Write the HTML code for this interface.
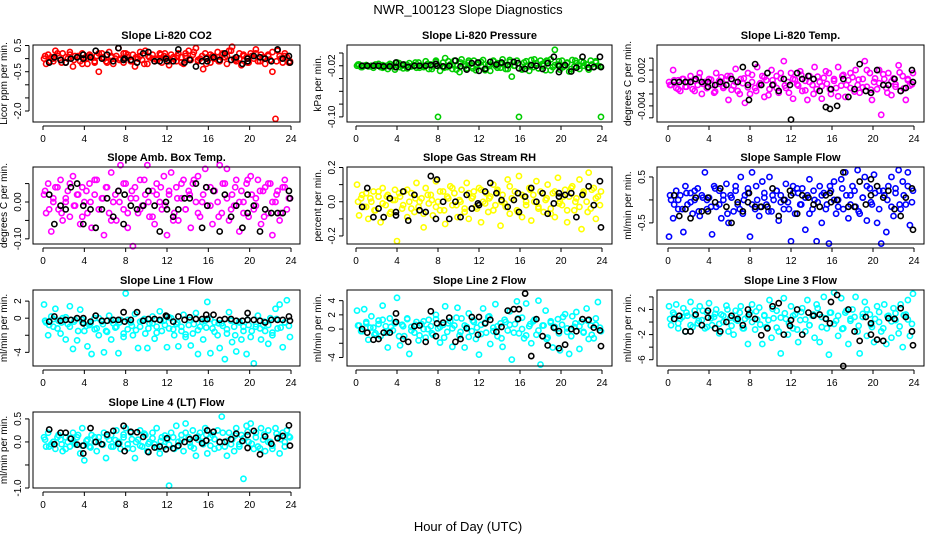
<!DOCTYPE html>
<html><head><meta charset="utf-8"><style>
html,body{margin:0;padding:0;background:#fff;}
svg{display:block;font-family:"Liberation Sans",sans-serif;}
</style></head><body>
<svg id="chart" width="936" height="540" viewBox="0 0 936 540" xmlns="http://www.w3.org/2000/svg">
<rect width="936" height="540" fill="#fff"/>
<text x="468" y="14" text-anchor="middle" font-size="13">NWR_100123  Slope Diagnostics</text>
<text x="468" y="531" text-anchor="middle" font-size="13">Hour of Day (UTC)</text>
</svg>
<script>
const xTicks=[0,4,8,12,16,20,24];
const hrsC=[0.1,0.3,0.5,0.8,1.0,1.2,1.5,1.7,1.9,2.2,2.4,2.6,2.9,3.1,3.3,3.6,3.8,4.0,4.3,4.5,4.7,5.0,5.2,5.4,5.7,5.9,6.1,6.4,6.6,6.8,7.1,7.3,7.5,7.8,8.0,8.2,8.5,8.7,8.9,9.2,9.4,9.6,9.9,10.1,10.3,10.6,10.8,11.0,11.3,11.5,11.7,12.0,12.2,12.4,12.7,12.9,13.1,13.4,13.6,13.8,14.1,14.3,14.5,14.8,15.0,15.2,15.5,15.7,15.9,16.2,16.4,16.6,16.9,17.1,17.3,17.6,17.8,18.0,18.3,18.5,18.7,19.0,19.2,19.4,19.7,19.9,20.1,20.4,20.6,20.8,21.1,21.3,21.5,21.8,22.0,22.2,22.5,22.7,22.9,23.2,23.4,23.6,23.9];
const hrsC2=[0.2,0.6,1.0,1.4,1.8,2.2,2.6,3.0,3.4,3.8,4.2,4.6,5.0,5.4,5.8,6.2,6.6,7.0,7.4,7.8,8.2,8.6,9.0,9.4,9.8,10.2,10.6,11.0,11.4,11.8,12.2,12.6,13.0,13.4,13.8,14.2,14.6,15.0,15.4,15.8,16.2,16.6,17.0,17.4,17.8,18.2,18.6,19.0,19.4,19.8,20.2,20.6,21.0,21.4,21.8,22.2,22.6,23.0,23.4,23.8];
const hrsK=[0.6,1.1,1.7,2.2,2.7,3.3,3.9,3.9,4.6,5.1,5.7,6.2,6.8,7.3,7.8,7.9,8.5,9.1,9.7,10.2,10.8,11.3,11.9,12.0,12.6,13.1,13.7,14.2,14.8,15.4,15.8,15.9,16.5,17.1,17.6,18.2,18.7,19.3,19.8,19.8,20.4,21.0,21.5,22.1,22.7,23.2,23.8,23.9];

const co2C=[0.0,-0.2,0.15,0.05,-0.1,0.3,0.1,-0.05,0.2,-0.15,0.0,0.25,-0.3,0.1,0.05,-0.1,0.2,0.0,-0.2,0.15,0.05,-0.15,0.1,-0.5,0.2,0.0,-0.1,0.25,0.05,-0.2,0.1,0.4,0.0,-0.15,0.2,0.05,-0.1,0.15,-0.3,0.0,0.1,-0.05,0.3,-0.2,0.05,0.15,-0.1,0.0,0.2,-0.15,0.1,0.05,-0.25,0.15,0.0,-0.1,0.2,0.05,-0.2,0.1,0.3,-0.05,0.15,0.4,-0.1,0.0,-0.4,0.2,0.05,-0.15,0.1,0.0,0.25,-0.1,0.15,0.05,-0.2,0.3,0.45,0.0,-0.1,0.2,-0.25,0.1,0.05,-0.15,0.2,0.0,0.35,-0.1,0.15,0.05,-0.2,0.1,-0.05,-0.5,-2.3,0.3,0.1,-0.15,0.2,0.05,-0.1];
const co2C2=[0.1,-0.1,0.0,0.2,-0.15,0.05,0.15,-0.05,0.1,-0.2,0.0,0.1,-0.1,0.2,0.05,-0.15,0.1,0.0,-0.05,0.2,0.15,-0.1,0.05,0.25,-0.2,0.1,0.0,-0.05,0.15,0.2,-0.1,0.05,0.1,-0.15,0.2,0.0,0.25,-0.05,0.1,-0.2,0.15,0.05,-0.1,0.2,0.1,0.3,-0.05,0.0,0.15,-0.15,0.1,0.2,-0.1,0.05,0.15,0.25,-0.1,0.0,0.1,-0.15];
const co2K=[-0.15,0.05,-0.05,-0.15,0.0,0.05,0.15,0.0,0.05,0.3,0.0,0.15,-0.1,0.4,-0.05,0.0,-0.05,-0.15,0.2,0.25,-0.1,-0.1,0.0,-0.1,-0.1,0.35,-0.15,-0.05,-0.3,-0.1,0.0,-0.1,0.05,-0.05,0.2,-0.05,0.05,-0.2,0.0,-0.1,0.1,0.05,0.0,-0.1,0.35,0.0,0.1,-0.15];
const presC=[-0.02,-0.018,-0.022,-0.02,-0.019,-0.021,-0.02,-0.023,-0.018,-0.02,-0.022,-0.019,-0.021,-0.025,-0.017,-0.02,-0.026,-0.015,-0.022,-0.02,-0.018,-0.024,-0.016,-0.021,-0.019,-0.023,-0.015,-0.02,-0.022,-0.013,-0.025,-0.018,-0.021,-0.012,-0.1,-0.028,-0.015,-0.008,-0.022,-0.018,-0.025,-0.012,-0.02,-0.03,-0.01,-0.018,-0.024,-0.015,-0.021,-0.012,-0.027,-0.016,-0.02,-0.011,-0.024,-0.018,-0.028,-0.013,-0.02,-0.016,-0.023,-0.01,-0.019,-0.025,-0.014,-0.037,-0.02,-0.012,-0.1,-0.025,-0.015,-0.02,-0.028,-0.011,-0.022,-0.016,-0.024,-0.012,-0.02,-0.027,-0.013,-0.01,-0.022,0.005,-0.018,-0.026,-0.012,-0.02,-0.015,-0.029,-0.011,-0.021,-0.016,-0.025,-0.013,-0.02,-0.018,-0.026,-0.012,-0.022,-0.015,-0.02,-0.1];
const presC2=[-0.018,-0.022,-0.019,-0.021,-0.02,-0.017,-0.023,-0.02,-0.018,-0.022,-0.016,-0.024,-0.019,-0.021,-0.015,-0.023,-0.02,-0.017,-0.025,-0.014,-0.02,-0.023,-0.013,-0.019,-0.026,-0.015,-0.021,-0.012,-0.024,-0.018,-0.014,-0.027,-0.02,-0.012,-0.023,-0.017,-0.025,-0.011,-0.02,-0.016,-0.026,-0.013,-0.021,-0.01,-0.024,-0.017,-0.012,-0.027,-0.019,-0.013,-0.022,-0.016,-0.025,-0.012,-0.02,-0.015,-0.023,-0.018,-0.013,-0.021];
const presK=[-0.02,-0.02,-0.02,-0.02,-0.021,-0.021,-0.015,-0.022,-0.018,-0.022,-0.02,-0.02,-0.02,-0.019,-0.017,-0.02,-0.021,-0.02,-0.012,-0.021,-0.026,-0.016,-0.015,-0.028,-0.025,-0.014,-0.018,-0.015,-0.019,-0.014,-0.016,-0.024,-0.025,-0.019,-0.02,-0.025,-0.016,-0.006,-0.02,-0.03,-0.019,-0.029,-0.023,-0.006,-0.023,-0.022,-0.006,-0.022];
// Li-820 temp in units of 0.001 degC/min
const tempC=[0,-0.5,2,-1,0.3,-1.5,0.5,-0.8,0,1,-1.2,0.2,-0.5,1.5,-2,0,-1,0.5,-0.5,-1.8,1.5,-0.3,0.8,-1,0.4,-3,1,-0.6,2.2,-1.5,0.5,-0.2,-3.5,1.5,-2,0,-1,2.5,-0.5,1,-2.5,0.3,-1.2,2,-0.4,1,-1.8,0.6,3.5,-1,0,1.5,-2.8,0.4,-0.6,1.8,-1.5,0.2,-3,1,-0.5,2.5,-1.2,0,-2.8,0.7,-0.3,1.5,-2,0.5,-1,2.5,-0.6,1.2,-2.5,0.3,-1,0.8,2,-0.5,-1.8,0.5,3.5,-0.8,1.5,-3,0,-1.2,2,-5.5,0.5,-1,1.5,-2.2,0.6,-0.4,2.8,-1.5,1,-3,0.3,-0.6,1.5];
const tempC2=[-0.5,0.3,-1.2,0.5,-0.8,0,-1.5,0.8,-0.3,-1,0.4,-1.6,0.2,-0.7,1,-1.3,0,-2,0.6,-0.9,1.2,-1.5,-0.2,0.8,-2.2,0.3,-1,1.5,-0.6,-1.8,0.5,-0.4,1.2,-1.4,0,-2,0.9,-0.7,1.8,-1.2,0.2,-2.4,1,-0.5,1.5,-1.6,0.4,-0.9,2,-1.3,0.6,-0.2,1.3,-1.8,0.1,-0.8,1.6,-1.1,0.5,-0.4];
const tempK=[0,0,0,0,0.5,0,0,-0.8,-0.5,0,-0.5,0.5,0,2.5,-0.5,-3,3,-0.5,1.5,-0.5,-1.5,0.5,-0.5,-6.3,1.5,0.5,1,0.5,-1.5,-4.2,-4.5,-1.2,-4,0.5,-2.5,-1.2,3,-1.5,-1.8,-1.8,2,-0.5,-0.5,0.5,-1.5,-1,2,0];
const ambC=[0.02,-0.03,0.05,-0.08,0.01,0.04,-0.02,0.06,-0.05,0.0,0.03,-0.04,0.07,-0.01,0.02,-0.06,0.04,0.0,-0.03,0.05,-0.07,0.02,0.06,-0.02,0.01,-0.09,0.04,-0.03,0.08,0.0,-0.05,0.03,0.1,-0.02,0.05,-0.07,0.01,-0.12,0.04,-0.03,0.06,-0.01,0.02,0.1,-0.04,0.03,-0.06,0.05,0.0,-0.02,0.07,-0.09,0.02,0.08,-0.03,0.04,-0.05,0.01,0.06,-0.02,0.03,-0.07,0.05,0.0,0.07,-0.04,0.02,0.09,-0.01,0.04,-0.06,0.03,0.0,0.1,-0.03,0.05,0.09,-0.05,0.02,-0.01,0.06,-0.08,0.03,0.0,0.05,-0.04,0.07,-0.02,0.01,0.06,-0.06,0.03,0.04,-0.03,0.05,-0.09,0.0,0.03,-0.05,0.04,0.06,-0.02,0.01];
const ambC2=[0.03,-0.02,0.0,0.04,-0.03,0.01,0.05,-0.01,0.02,-0.04,0.03,0.0,0.06,-0.02,0.01,0.04,-0.05,0.02,0.0,0.05,-0.03,0.03,0.01,-0.02,0.06,0.0,-0.04,0.02,0.04,-0.01,0.03,-0.05,0.01,0.05,-0.02,0.02,0.06,-0.03,0.0,0.04,-0.01,0.03,-0.04,0.05,0.01,-0.02,0.04,0.0,-0.03,0.06,0.02,-0.01,0.03,-0.04,0.05,0.0,0.02,-0.03,0.04,0.01];
const ambK=[0.02,-0.06,-0.01,-0.02,0.04,0.05,-0.06,-0.01,-0.02,-0.07,-0.02,0.01,-0.04,0.03,-0.06,0.02,-0.01,-0.02,-0.01,0.03,-0.01,-0.08,0.0,-0.02,-0.04,-0.02,0.01,0.01,0.05,-0.07,0.04,-0.01,0.03,-0.08,0.02,-0.04,-0.01,-0.07,0.02,-0.03,-0.01,-0.08,-0.02,-0.03,-0.03,-0.03,0.03,0.01];
const rhC=[0.1,-0.08,0.02,-0.03,0.05,-0.1,0.0,0.06,-0.05,0.03,-0.12,0.08,-0.02,0.04,-0.07,0.01,0.07,-0.23,0.03,-0.04,0.06,-0.09,0.0,0.05,-0.06,0.11,-0.03,0.02,-0.15,0.08,-0.01,0.04,-0.08,0.12,0.0,-0.05,0.06,-0.13,0.03,0.09,-0.02,0.05,-0.09,0.01,0.07,-0.04,0.11,-0.1,0.02,0.06,-0.03,0.08,-0.12,0.0,0.05,-0.06,0.03,0.1,-0.02,0.07,-0.14,0.04,-0.01,0.13,-0.07,0.02,0.06,-0.05,0.15,-0.09,0.03,0.0,0.08,-0.11,0.04,0.12,-0.03,0.06,-0.06,0.01,0.1,-0.04,0.05,-0.09,0.14,0.0,-0.02,0.07,-0.12,0.03,0.09,-0.05,0.02,0.13,-0.16,0.06,0.0,0.17,-0.04,0.08,-0.1,0.03,0.06];
const rhC2=[0.0,0.04,-0.03,0.02,-0.05,0.06,-0.01,0.03,-0.06,0.01,0.05,-0.02,0.07,-0.04,0.02,0.0,-0.07,0.04,0.01,-0.03,0.06,-0.05,0.02,0.08,-0.02,0.0,-0.06,0.05,0.03,-0.04,0.07,-0.01,0.02,-0.05,0.06,0.0,-0.03,0.09,0.01,-0.06,0.04,-0.02,0.07,0.0,-0.04,0.05,0.02,-0.07,0.06,-0.01,0.03,-0.05,0.08,0.0,-0.03,0.05,-0.06,0.07,0.02,-0.02];
const rhK=[-0.03,0.08,-0.09,-0.04,-0.09,0.02,-0.06,-0.08,0.06,-0.11,0.04,-0.05,-0.06,0.15,-0.1,0.13,0.0,-0.1,0.0,-0.09,0.04,-0.04,-0.01,-0.02,0.06,0.11,0.05,0.01,-0.03,0.01,0.05,-0.06,0.03,0.08,0.0,0.05,-0.07,-0.01,0.05,0.03,0.04,0.05,-0.09,0.04,0.09,-0.02,0.12,-0.15];
const sfC=[-0.8,0.0,-0.4,0.2,-0.2,0.1,-0.7,0.3,-0.1,0.15,-0.3,0.0,0.25,-0.35,0.1,0.6,-0.2,0.05,-0.75,0.3,-0.15,0.2,-0.4,0.0,0.35,-0.5,0.1,-0.25,0.3,-0.1,0.5,-0.3,0.1,0.25,-0.8,0.6,-0.2,0.0,-0.35,0.4,0.15,-0.1,0.5,-0.25,0.0,0.2,-0.45,0.1,-0.2,0.35,-0.05,-0.9,0.3,-0.3,0.15,-0.1,0.25,-0.65,0.1,0.45,-0.2,0.0,-0.9,0.3,-0.5,0.15,-0.1,-0.95,0.2,0.4,-0.3,0.0,0.45,-0.2,0.6,-0.4,0.1,0.3,-0.15,0.65,-0.3,0.05,0.5,-0.45,0.25,-0.1,0.55,-0.5,0.2,-0.95,0.1,-0.7,0.3,0.5,-0.35,0.15,0.65,-0.2,0.4,-0.1,0.6,-0.55,0.2];
const sfC2=[0.1,-0.1,0.0,-0.2,0.15,-0.05,0.2,-0.25,0.05,0.0,-0.15,0.25,-0.1,0.1,-0.3,0.05,0.2,-0.2,0.0,0.15,-0.1,0.3,-0.15,0.05,-0.25,0.1,0.2,-0.05,0.0,-0.2,0.15,0.25,-0.1,0.05,-0.3,0.2,-0.05,0.1,-0.2,0.3,0.0,-0.15,0.25,0.1,-0.1,0.2,-0.25,0.05,0.3,-0.05,0.15,-0.2,0.2,0.0,-0.15,0.25,-0.1,0.1,0.3,-0.05];
const sfK=[0.1,-0.35,-0.2,-0.4,0.05,-0.25,0.05,-0.25,-0.05,0.25,-0.15,-0.5,-0.05,-0.25,-0.05,0.15,-0.15,-0.15,-0.15,0.25,-0.35,0.0,0.2,0.1,-0.3,0.1,0.05,-0.1,-0.15,0.1,0.15,-0.05,0.0,0.6,-0.15,-0.15,0.4,-0.1,0.1,0.45,0.3,0.05,0.2,-0.2,-0.35,0.05,0.25,-0.65];
const l1C=[1.6,-0.5,-2,0.2,-1,1.1,-0.3,-1.8,0.0,-2.5,-0.7,1.4,-3.6,-0.2,-2.6,1.0,-0.5,-1.5,-3.3,-0.8,-4.2,0.0,-1.2,-2.0,-0.4,-4.0,-1.5,0.3,-2.5,-0.6,-1.0,-4.1,-0.2,-2.2,2.9,-1.3,-0.5,-2.0,0.5,-3.5,-1.0,-0.3,-1.8,-3.5,-0.6,0.2,-2.4,-1.0,0.8,-1.5,-0.3,-3.4,-1.2,0.0,-2.0,-0.7,-3.3,-1.5,0.4,-2.2,-0.8,-3.2,-1.8,0.6,-4.2,-1.0,-2.5,-0.3,1.9,-4.1,-1.2,-0.5,-2.0,-3.5,-0.6,-4.8,-1.8,0.7,-2.8,-1.0,-3.9,-0.4,-2.5,-1.5,-4.2,-0.8,-2.2,-5.3,-1.0,0.3,-2.5,-0.8,-1.5,-3.0,0.0,-2.0,1.1,-1.2,1.6,-3.4,-0.5,2.1,-2.2];
const l1C2=[-0.3,-0.8,-0.1,-1.2,-0.5,0.1,-1.0,-0.4,-1.5,-0.2,-0.9,-0.6,-1.3,0.0,-0.7,-1.6,-0.3,-1.1,-0.5,-1.8,-0.2,-0.9,-1.4,-0.4,-0.1,-1.2,-0.6,-1.7,-0.3,-0.8,0.1,-1.3,-0.5,-1.0,-1.9,-0.2,-0.7,-1.4,-0.4,-1.1,-0.1,-1.6,-0.6,-0.9,-1.3,-0.3,-2.0,-0.5,-1.0,-0.2,-1.5,-0.7,-1.2,-0.4,-0.8,-1.7,-0.1,-1.1,-0.5,-0.9];
const l1K=[-0.4,0.2,-0.3,-0.2,-0.2,0.0,-0.6,0.0,-0.4,0.3,-0.3,-0.3,-0.2,-0.2,0.7,-0.4,-0.2,0.7,-0.3,-0.1,-0.1,-0.2,0.3,0.2,-0.4,0.2,-0.2,0.1,-0.1,-0.1,0.4,-0.1,0.4,-0.2,-0.1,-0.1,-0.3,-0.3,0.6,-0.2,-0.2,-0.3,-0.5,-0.2,-0.2,-0.2,0.2,-0.3];
const l2C=[2.6,0.5,-0.3,2.8,0.8,-1.5,1.8,0.2,-0.6,1.2,-1.0,3.3,0.4,-2.6,1.5,-0.2,0.8,4.4,-2.3,0.6,-1.0,1.4,-3.5,0.3,-0.5,1.0,-1.6,0.7,0.0,-1.2,1.3,0.4,-0.8,2.0,0.1,-1.9,0.6,3.2,-0.4,1.1,-2.5,0.5,3.0,-0.9,1.5,-2.6,0.3,2.2,-0.3,1.0,-1.4,-3.6,0.6,2.9,-0.5,1.7,-2.1,0.2,3.5,-1.0,0.8,-2.5,1.3,-0.2,2.5,-4.3,0.7,3.9,-0.6,1.6,-1.3,3.6,0.4,-2.0,1.1,-0.8,4.0,-5.0,0.5,2.6,-1.2,0.9,-2.6,0.1,1.4,-3.0,0.6,2.1,-0.4,-3.5,1.8,0.3,2.4,-2.8,1.0,-0.5,2.9,-1.4,0.5,-1.3,1.5,3.8,-0.3];
const l2C2=[0.5,-0.3,1.0,0.2,-0.8,0.7,1.3,-0.5,0.3,0.9,-1.0,0.4,1.5,-0.2,0.6,-0.9,1.1,0.0,-0.6,1.4,0.3,-1.2,0.8,0.1,1.6,-0.4,0.5,-1.1,1.2,0.2,-0.7,0.9,1.8,-0.3,0.4,-1.3,1.0,0.6,-0.5,1.5,0.0,-0.9,0.7,1.3,-0.2,0.5,-1.4,1.1,0.3,-0.6,1.7,0.1,-1.0,0.8,0.4,-0.4,1.2,-0.8,0.6,0.2];
const l2K=[0.0,-0.5,-1.5,-1.4,-0.5,-0.5,2.2,1.0,-1.4,-1.8,0.4,0.5,-1.8,2.5,-1.0,0.8,0.9,1.6,-1.8,-1.4,0.1,1.7,-0.8,1.7,0.8,1.3,-0.4,0.3,2.6,2.8,1.4,2.8,5.0,-3.8,1.4,-1.0,-2.3,0.2,-0.3,-2.7,-2.2,0.0,-0.3,1.4,1.3,0.2,-0.2,-2.4];
const l3C=[2.5,-0.5,1.5,2.8,-1.0,0.5,2.2,-1.5,1.0,3.2,-0.8,1.8,-0.2,2.5,0.3,-1.0,1.5,3.0,-0.5,0.8,2.0,-1.8,1.2,0.0,2.6,-1.5,0.7,-2.0,1.8,0.2,2.5,-1.0,0.5,-3.5,1.5,2.8,-1.2,0.4,2.3,-3.5,1.0,-0.8,3.5,-2.5,0.6,1.8,-1.5,-5.0,3.8,0.5,-2.0,2.5,-1.0,1.2,-3.2,0.3,2.2,-1.5,3.5,-0.5,1.0,-2.5,2.8,-3.2,0.8,4.0,-1.0,-5.2,1.5,4.7,0.2,-2.2,3.8,-1.0,1.5,-3.5,0.5,2.0,4.0,-1.5,-5.0,0.8,3.2,-2.2,1.2,-0.8,-3.2,2.5,0.0,-1.5,2.8,-3.5,1.0,-2.5,2.2,0.3,-1.8,2.8,-4.0,1.2,3.5,-2.2,4.5];
const l3C2=[0.5,1.2,-0.2,0.8,1.5,-0.5,1.0,0.2,1.8,-0.8,0.6,1.3,-0.3,1.0,2.0,-0.6,0.4,1.5,-1.0,0.9,0.0,1.7,-0.4,1.1,0.3,2.1,-0.9,0.7,1.4,-0.2,1.0,-1.2,1.6,0.4,-0.5,1.2,2.2,-0.8,0.6,1.5,-0.3,1.0,-1.1,1.8,0.2,0.8,-0.6,1.3,2.0,-0.4,0.5,1.6,-1.0,0.9,0.1,1.4,-0.7,1.1,0.4,-0.3];
const l3K=[0.5,1.0,-1.5,-1.5,1.2,-0.5,1.8,0.7,-1.0,-1.5,0.0,1.0,0.5,-0.5,2.0,1.2,0.5,-2.1,-1.0,2.5,3.0,-2.0,-0.6,0.3,2.0,-2.0,1.5,1.0,1.2,0.5,-0.2,3.2,4.3,-7.0,2.0,-1.5,-3.0,0.8,-0.2,-2.0,-2.8,-3.0,0.6,0.5,2.2,0.8,-1.5,-3.7];
const l4C=[0.1,-0.1,0.2,-0.05,0.0,-0.15,0.15,0.05,-0.2,0.1,0.0,-0.1,0.2,-0.05,0.1,-0.25,0.3,-0.4,0.05,-0.1,0.15,0.0,-0.2,0.1,-0.05,0.2,-0.35,0.05,0.15,-0.1,0.25,0.0,-0.15,0.1,0.3,-0.05,0.2,-0.15,-0.35,0.05,0.25,-0.1,0.15,-0.2,0.0,0.2,-0.05,0.3,-0.25,0.1,-0.1,0.05,-0.95,0.2,-0.15,0.35,0.0,0.15,-0.2,0.4,0.1,-0.1,0.25,-0.3,0.05,0.2,-0.05,0.3,-0.25,0.1,0.15,-0.15,0.25,0.0,0.55,-0.1,-0.3,0.2,0.05,-0.2,0.3,-0.05,0.15,-0.8,0.35,0.0,0.4,-0.15,0.2,-0.1,0.3,0.05,-0.2,0.25,0.0,-0.15,0.3,0.1,-0.25,0.2,0.0,0.25,0.1];
const l4C2=[0.05,-0.1,0.0,0.1,-0.05,-0.15,0.08,-0.02,0.15,-0.08,0.02,-0.12,0.1,0.0,-0.06,0.12,-0.1,0.04,-0.03,0.16,-0.14,0.06,0.0,-0.08,0.18,-0.04,0.08,-0.12,0.02,0.14,-0.06,0.1,-0.1,0.04,0.2,-0.02,-0.14,0.12,0.0,0.16,-0.08,0.06,-0.12,0.2,0.02,-0.05,0.14,-0.1,0.08,0.22,-0.04,0.1,-0.14,0.16,0.0,-0.08,0.18,0.06,-0.1,0.12];
const l4K=[0.27,-0.05,0.2,0.2,0.07,-0.06,-0.25,-0.08,0.3,0.0,-0.05,0.16,0.24,-0.04,0.35,-0.2,0.22,0.21,0.11,-0.22,-0.12,-0.1,-0.16,0.08,-0.14,-0.08,0.0,0.06,0.09,-0.03,0.03,0.25,0.22,0.0,0.0,0.06,0.18,0.02,0.15,-0.13,0.24,-0.27,0.12,-0.04,0.08,0.13,0.36,-0.08];

const titles=["Slope Li-820 CO2","Slope Li-820 Pressure","Slope Li-820 Temp.","Slope Amb. Box Temp.","Slope Gas Stream RH","Slope Sample Flow","Slope Line 1 Flow","Slope Line 2 Flow","Slope Line 3 Flow","Slope Line 4 (LT) Flow"];
const yTitles=["Licor ppm per min.","kPa per min.","degrees C per min.","degrees C per min.","percent per min.","ml/min per min.","ml/min per min.","ml/min per min.","ml/min per min.","ml/min per min."];
const yLims=[[-2.42,0.52],[-0.108,0.0125],[-6.7,6.2],[-0.114,0.095],[-0.247,0.203],[-0.96,0.717],[-5.6,3.3],[-5.2,5.5],[-7.0,5.1],[-1.0,0.65]];
const yTickVals=[[0.5,0,-0.5,-1,-1.5,-2],[0,-0.02,-0.04,-0.06,-0.08,-0.1],[4,2,0,-2,-4,-6],[0.05,0,-0.05,-0.1],[0.2,0.1,0,-0.1,-0.2],[0.5,0,-0.5],[2,0,-2,-4],[4,2,0,-2,-4],[4,2,0,-2,-4,-6],[0.5,0,-0.5,-1]];
const yTickLabels=[["0.5","","-0.5","","","-2.0"],["","-0.02","","","","-0.10"],["","0.002","","","-0.004",""],["","0.00","","-0.10"],["0.2","","0.0","","-0.2"],["0.5","","-0.5"],["2","0","","-4"],["4","2","0","","-4"],["","2","","-2","","-6"],["0.5","0.0","","-1.0"]];
const colSeries=[co2C,presC,tempC,ambC,rhC,sfC,l1C,l2C,l3C,l4C];
const colSeries2=[co2C2,presC2,tempC2,ambC2,rhC2,sfC2,l1C2,l2C2,l3C2,l4C2];
const blkSeries=[co2K,presK,tempK,ambK,rhK,sfK,l1K,l2K,l3K,l4K];
const colors=["#ff0000","#00cd00","#ff00ff","#ff00ff","#ffff00","#0000ff","#00ffff","#00ffff","#00ffff","#00ffff"];

const NS="http://www.w3.org/2000/svg";
const svg=document.getElementById('chart');
const cols=[{l:33,r:300,x0:43,x24:291},{l:347,r:612,x0:356,x24:602},{l:657,r:924,x0:668,x24:914}];
const rows=[{t:45,b:122},{t:167,b:244},{t:290,b:366},{t:412,b:488}];
function mk(tag,attrs,parent){const e=document.createElementNS(NS,tag);for(const k in attrs)e.setAttribute(k,attrs[k]);(parent||svg).appendChild(e);return e;}

for(let p=0;p<10;p++){
  const c=cols[p%3], r=rows[Math.floor(p/3)];
  const g=mk('g',{});
  
  
  const xs=h=>c.x0+(c.x24-c.x0)*h/24;
  const [ymin,ymax]=yLims[p];
  const ys=v=>r.b-(r.b-r.t)*(v-ymin)/(ymax-ymin);
  const ttl=mk('text',{x:(c.l+c.r)/2,y:r.t-6,'text-anchor':'middle','font-size':'11','font-weight':'bold'},g);
  ttl.textContent=titles[p];
  
  
  const ax=c.l-26, ay=(r.t+r.b)/2;
  const yt=mk('text',{x:ax,y:ay,'text-anchor':'middle','font-size':'10',transform:`rotate(-90 ${ax} ${ay})`},g);
  yt.textContent=yTitles[p];
  
  
  const cs2=colSeries2[p], n2=Math.min(cs2.length,hrsC2.length);
  for(let i=0;i<n2;i++){
    const pt=mk('circle',{cx:xs(hrsC2[i]),cy:ys(cs2[i]),r:2.6,fill:'none',stroke:colors[p],'stroke-width':1.6},g);
    
    
  }
  const cs=colSeries[p], n=Math.min(cs.length,hrsC.length);
  for(let i=0;i<n;i++){
    const pt=mk('circle',{cx:xs(hrsC[i]),cy:ys(cs[i]),r:2.6,fill:'none',stroke:colors[p],'stroke-width':1.6},g);
    
    
  }
  const bs=blkSeries[p], m=Math.min(bs.length,hrsK.length);
  for(let i=0;i<m;i++){
    const pt=mk('circle',{cx:xs(hrsK[i]),cy:ys(bs[i]),r:2.6,fill:'none',stroke:'#000','stroke-width':1.6},g);
    
    
  }
  const box=mk('rect',{x:c.l,y:r.t,width:c.r-c.l,height:r.b-r.t,fill:'none',stroke:'#000','stroke-width':1},g);
  
  
  mk('line',{x1:xs(0),x2:xs(24),y1:r.b+4,y2:r.b+4,stroke:'#000'},g);
  xTicks.forEach(t=>{
    mk('line',{x1:xs(t),x2:xs(t),y1:r.b+4,y2:r.b+8,stroke:'#000'},g);
    const tl=mk('text',{x:xs(t),y:r.b+20,'text-anchor':'middle','font-size':'10'},g);
    tl.textContent=t;
    
    
  });
  const tv=yTickVals[p];
  mk('line',{x1:c.l-4,x2:c.l-4,y1:ys(tv[0]),y2:ys(tv[tv.length-1]),stroke:'#000'},g);
  tv.forEach((v,i)=>{
    mk('line',{x1:c.l-8,x2:c.l-4,y1:ys(v),y2:ys(v),stroke:'#000'},g);
    const lab=yTickLabels[p][i];
    if(lab){
      const lx=c.l-12, ly=ys(v);
      const tl=mk('text',{x:lx,y:ly,'text-anchor':'middle','font-size':'10',transform:`rotate(-90 ${lx} ${ly})`},g);
      tl.textContent=lab;
      
      
    }
  });
}
</script>
</body></html>
